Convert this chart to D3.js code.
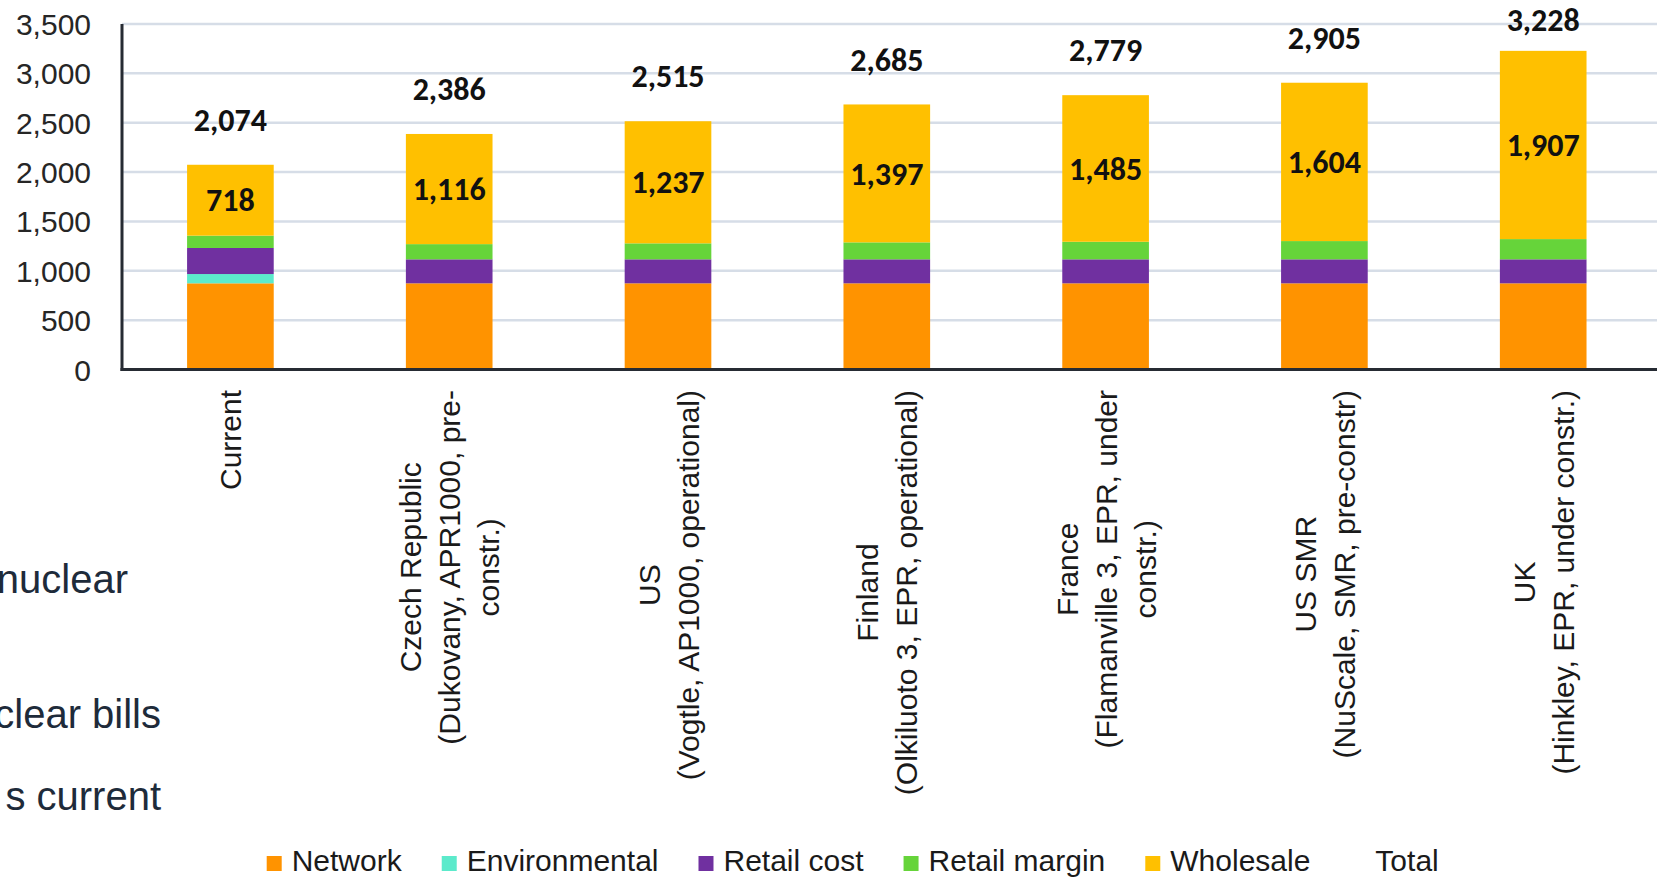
<!DOCTYPE html>
<html>
<head>
<meta charset="utf-8">
<script src="https://cdn.jsdelivr.net/npm/d3@7/dist/d3.min.js"></script>
<style>
  html, body { margin: 0; padding: 0; background: #ffffff; }
  svg { display: block; }
</style>
</head>
<body>
<svg id="chart" width="1657" height="878"></svg>
<script>
// Category labels, one entry per bar, split into their wrapped lines
const categoryLines = [
  ["Current"],
  ["Czech Republic", "(Dukovany, APR1000, pre-", "constr.)"],
  ["US", "(Vogtle, AP1000, operational)"],
  ["Finland", "(Olkiluoto 3, EPR, operational)"],
  ["France", "(Flamanville 3, EPR, under", "constr.)"],
  ["US SMR", "(NuScale, SMR, pre-constr)"],
  ["UK", "(Hinkley, EPR, under constr.)"]
];

// Bill components (stacked from the bottom up)
const network       = [873, 873, 873, 873, 873, 873, 873];
const environmental = [94, 0, 0, 0, 0, 0, 0];
const retailCost    = [264, 243, 243, 243, 243, 243, 243];
const retailMargin  = [125, 154, 162, 172, 178, 185, 205];
const wholesale     = [718, 1116, 1237, 1397, 1485, 1604, 1907];
const total         = [2074, 2386, 2515, 2685, 2779, 2905, 3228];

const seriesNames  = ["Network", "Environmental", "Retail cost", "Retail margin", "Wholesale"];
const seriesColors = ["#FF9300", "#5CEACB", "#7030A0", "#66D43A", "#FFC000"];
const yTicks = [0, 500, 1000, 1500, 2000, 2500, 3000, 3500];

// Side text from the surrounding slide
const sideText = [
  { text: "nuclear",     x: 128, y: 593 },
  { text: "clear bills", x: 161, y: 728 },
  { text: "s current",   x: 161, y: 810 }
];

const svg = d3.select("#chart");
const W = 1657;

const rows = categoryLines.map((lines, i) => ({
  i,
  lines,
  Network: network[i],
  Environmental: environmental[i],
  "Retail cost": retailCost[i],
  "Retail margin": retailMargin[i],
  Wholesale: wholesale[i],
  total: total[i]
}));

const x = d3.scaleBand()
  .domain(rows.map(d => d.i))
  .range([121, 1652.6])
  .paddingInner(0.604)
  .paddingOuter(0.302);

const y = d3.scaleLinear().domain([0, 3500]).range([369.5, 24]);

const axisFont = "'Liberation Sans', Arial, sans-serif";
const labelFont = "Carlito, 'Open Sans', 'Liberation Sans', sans-serif";

// Gridlines
svg.append("g")
  .selectAll("line")
  .data(yTicks.filter(t => t > 0))
  .join("line")
  .attr("x1", 122).attr("x2", W)
  .attr("y1", d => y(d)).attr("y2", d => y(d))
  .attr("stroke", "#d6dde7")
  .attr("stroke-width", 2.5);

// Y axis tick labels
const yAxis = d3.axisLeft(y).tickValues(yTicks).tickFormat(d3.format(",")).tickSize(0).tickPadding(0);
const gy = svg.append("g").attr("transform", "translate(91,0)").call(yAxis);
gy.select(".domain").remove();
gy.selectAll("text")
  .attr("font-family", axisFont)
  .attr("font-size", 30)
  .attr("fill", "#262626")
  .attr("dy", "0.35em");

// Stacked bars
const stack = d3.stack().keys(seriesNames);
const stacked = stack(rows);

svg.append("g")
  .selectAll("g")
  .data(stacked)
  .join("g")
  .attr("fill", (d, k) => seriesColors[k])
  .selectAll("rect")
  .data(d => d)
  .join("rect")
  .attr("x", d => x(d.data.i))
  .attr("width", x.bandwidth())
  .attr("y", d => y(d[1]))
  .attr("height", d => Math.max(0, y(d[0]) - y(d[1])));

// Axis lines
svg.append("line")
  .attr("x1", 122).attr("x2", 122)
  .attr("y1", y(3500)).attr("y2", y(0) + 1.5)
  .attr("stroke", "#262b33").attr("stroke-width", 3);
svg.append("line")
  .attr("x1", 120.5).attr("x2", W)
  .attr("y1", y(0)).attr("y2", y(0))
  .attr("stroke", "#262b33").attr("stroke-width", 3);

// Wholesale value labels, centred in the wholesale segment
const wholesaleLayer = stacked[seriesNames.indexOf("Wholesale")];
svg.append("g")
  .selectAll("text")
  .data(wholesaleLayer)
  .join("text")
  .attr("x", d => x(d.data.i) + x.bandwidth() / 2)
  .attr("y", d => (y(d[0]) + y(d[1])) / 2)
  .attr("dy", "0.35em")
  .attr("text-anchor", "middle")
  .attr("font-family", labelFont)
  .attr("font-weight", "bold")
  .attr("font-size", 32)
  .attr("fill", "#111")
  .text(d => d3.format(",")(d.data.Wholesale));

// Total labels above each bar, kept inside the chart area
svg.append("g")
  .selectAll("text")
  .data(rows)
  .join("text")
  .attr("x", d => x(d.i) + x.bandwidth() / 2)
  .attr("y", d => Math.max(y(d.total) - 45, 20))
  .attr("dy", "0.35em")
  .attr("text-anchor", "middle")
  .attr("font-family", labelFont)
  .attr("font-weight", "bold")
  .attr("font-size", 32)
  .attr("fill", "#111")
  .text(d => d3.format(",")(d.total));

// Rotated, wrapped category labels
const lineH = 39;
const catTop = 390;
const catG = svg.append("g");
rows.forEach(d => {
  const n = d.lines.length;
  const cx = x(d.i) + x.bandwidth() / 2;
  const texts = d.lines.map(ln => catG.append("text")
    .attr("font-family", axisFont)
    .attr("font-size", 30)
    .attr("fill", "#1a1a1a")
    .attr("text-anchor", "middle")
    .text(ln));
  const maxLen = d3.max(texts, t => t.node().getComputedTextLength());
  texts.forEach((t, k) => {
    const bx = cx + (k - (n - 1) / 2) * lineH + 11;
    const by = catTop + maxLen / 2;
    t.attr("transform", `translate(${bx},${by}) rotate(-90)`);
  });
});

// Legend
const legendItems = seriesNames.map((name, k) => ({ name, color: seriesColors[k] }))
  .concat([{ name: "Total", color: null }]);
const legend = svg.append("g");
let lx = 266.7;
const ly = 871;
legendItems.forEach(item => {
  if (item.color) {
    legend.append("rect")
      .attr("x", lx).attr("y", ly - 15)
      .attr("width", 15).attr("height", 15)
      .attr("fill", item.color);
  }
  const t = legend.append("text")
    .attr("x", lx + 25).attr("y", ly)
    .attr("font-family", axisFont)
    .attr("font-size", 30)
    .attr("fill", "#1a1a1a")
    .text(item.name);
  lx += 25 + t.node().getComputedTextLength() + 40;
});

// Side text
svg.append("g")
  .selectAll("text")
  .data(sideText)
  .join("text")
  .attr("x", d => d.x)
  .attr("y", d => d.y)
  .attr("text-anchor", "end")
  .attr("font-family", axisFont)
  .attr("font-size", 40)
  .attr("fill", "#1e2b3a")
  .text(d => d.text);
</script>
</body>
</html>
